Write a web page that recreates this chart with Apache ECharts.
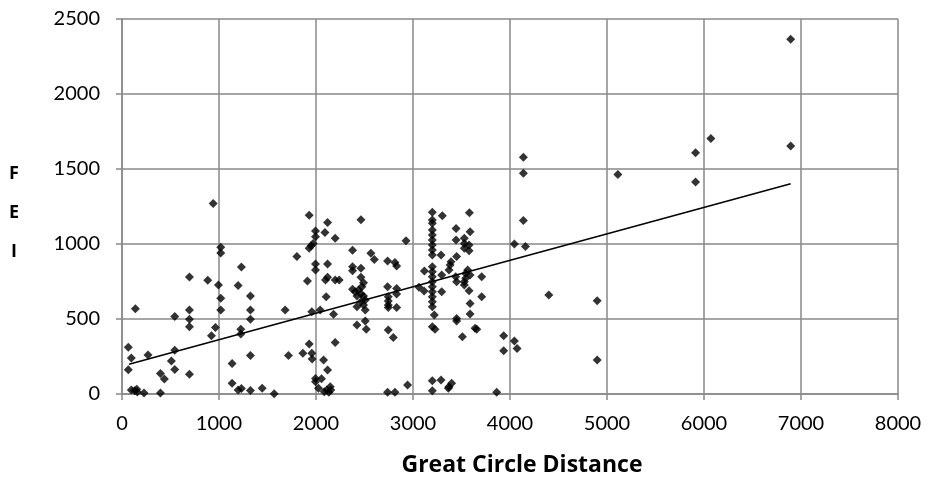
<!DOCTYPE html>
<html>
<head>
<meta charset="utf-8">
<title>FEI vs Great Circle Distance</title>
<script src="https://cdn.jsdelivr.net/npm/echarts@6/dist/echarts.min.js"></script>
<style>
  html, body { margin: 0; padding: 0; background: #fff; }
  #chart { width: 929px; height: 483px; }
</style>
</head>
<body>
<div id="chart"></div>
<script>
// Great circle distance of each route
const distance = [
  65, 96, 65, 138, 96, 131, 152, 158, 227, 268, 396, 396, 437, 509, 544, 544, 544,
  695, 695, 695, 695, 695, 884, 922, 963, 940,
  994, 1018, 1018, 1018, 1018, 1135, 1135, 1197, 1231, 1197, 1231, 1225, 1225,
  1324, 1324, 1324, 1324, 1324, 1445, 1569, 1682, 1716, 1803, 1865, 1912,
  1930, 1930, 1950, 1971, 1930, 1957, 1960, 1957, 1995, 1995, 1995, 1995, 1995, 1995, 2026,
  2043, 2057, 2078, 2085, 2092, 2098, 2105, 2112, 2119, 2119, 2119, 2119, 2133, 2147, 2153,
  2181, 2198, 2198, 2198, 2239, 2377, 2377, 2377, 2377, 2405, 2422, 2422, 2422, 2439,
  2463, 2463, 2463, 2463, 2463, 2473, 2490, 2490, 2490, 2508, 2508, 2508, 2518, 2566, 2601,
  2738, 2738, 2738, 2745, 2745, 2745, 2745, 2745, 2797, 2814, 2814, 2831, 2831, 2831, 2831,
  2928, 2944,
  3062, 3114, 3117, 3199, 3199, 3199, 3199, 3199, 3199, 3199, 3199, 3199, 3199, 3199, 3199,
  3199, 3199, 3199, 3199, 3199, 3199, 3199, 3227, 3220, 3199, 3199, 3289, 3289, 3296, 3296,
  3302, 3364, 3371, 3398, 3371, 3382, 3392, 3440, 3450, 3444, 3444, 3450, 3450, 3450, 3509,
  3529, 3529, 3529, 3529, 3529, 3543, 3543, 3564, 3578, 3578, 3578, 3581, 3588, 3588, 3588,
  3588, 3640, 3657, 3708, 3708, 3863, 3935, 3935,
  4045, 4073, 4045, 4159, 4138, 4138, 4138, 4400, 4899, 4899, 5112, 5913, 5913, 6071, 6894, 6894
];

// FEI value of each route, same order as distance
const fei = [
  311, 240, 162, 569, 27, 22, 31, 13, 7, 260, 7, 136, 100, 220, 291, 164, 516,
  780, 560, 498, 449, 131, 758, 389, 444, 1270,
  727, 978, 940, 638, 560, 204, 71, 27, 36, 724, 847, 431, 400,
  653, 560, 498, 256, 24, 38, 2, 560, 256, 916, 271, 753,
  1191, 971, 989, 1004, 333, 271, 233, 549, 1087, 1049, 867, 827, 104, 82, 38,
  560, 102, 227, 15, 1076, 760, 649, 27, 1144, 867, 778, 160, 11, 49, 27,
  531, 1038, 760, 344, 760, 958, 849, 822, 698, 682, 653, 582, 460, 693,
  1162, 838, 778, 667, 615, 715, 742, 653, 593, 627, 560, 487, 431, 938, 896,
  887, 715, 11, 649, 620, 593, 576, 427, 376, 876, 11, 853, 704, 667, 576,
  1022, 60,
  711, 687, 820, 1211, 1160, 1138, 1093, 1060, 1027, 993, 960, 927, 849, 815, 782,
  749, 715, 682, 649, 615, 582, 449, 431, 527, 89, 22, 93, 927, 793, 682,
  1189, 38, 49, 71, 827, 860, 882, 782, 749, 1104, 1027, 916, 504, 487, 382,
  1038, 1004, 971, 749, 727, 804, 771, 827, 993, 955, 689, 1209, 1082, 793, 604,
  533, 438, 431, 782, 649, 11, 389, 289,
  353, 304, 1000, 984, 1156, 1471, 1578, 660, 622, 227, 1464, 1609, 1413, 1704, 2365, 1653
];

// Linear trend line: FEI = trendSlope * distance + trendIntercept
const trendSlope = 0.1765;
const trendIntercept = 185;
const trendRange = [72, 6894];

// Axis ticks
const xTicks = [0, 1000, 2000, 3000, 4000, 5000, 6000, 7000, 8000];
const yTicks = [0, 500, 1000, 1500, 2000, 2500];

const points = distance.map((d, i) => [d, fei[i]]);
const trend = trendRange.map(d => [d, trendSlope * d + trendIntercept]);

const gridColor = '#898989';
const numFont = 'Lato, "Open Sans", sans-serif';
const titleFont = '"Open Sans", Lato, sans-serif';
const plain = v => String(v);

// Y-axis title: letters stacked vertically, with a short spacer line on top
const yTitleLetters = ['F', 'E', 'I'];
const yTitle = '{s|}\n' + yTitleLetters.map(c => '{t|' + c + '}').join('\n');

const chart = echarts.init(document.getElementById('chart'), null, { renderer: 'canvas' });
chart.setOption({
  animation: false,
  backgroundColor: '#ffffff',
  grid: { left: 122, right: 31, top: 19, bottom: 89, containLabel: false },
  xAxis: {
    type: 'value',
    min: xTicks[0],
    max: xTicks[xTicks.length - 1],
    interval: xTicks[1] - xTicks[0],
    name: 'Great Circle Distance',
    nameLocation: 'middle',
    nameGap: 60,
    nameTextStyle: {
      fontFamily: titleFont, fontSize: 23, fontWeight: 'bold', color: '#000',
      padding: [0, 0, 0, 24]
    },
    axisLine: { show: true, lineStyle: { color: gridColor, width: 1.5 } },
    axisTick: { show: true, inside: false, length: 6, lineStyle: { color: gridColor, width: 1.5 } },
    axisLabel: { margin: 20, fontFamily: numFont, fontSize: 20, color: '#000', formatter: plain },
    splitLine: { show: true, lineStyle: { color: gridColor, width: 1.5 } }
  },
  yAxis: {
    type: 'value',
    min: yTicks[0],
    max: yTicks[yTicks.length - 1],
    interval: yTicks[1] - yTicks[0],
    name: yTitle,
    nameLocation: 'middle',
    nameRotate: 0,
    nameGap: 108,
    nameTextStyle: {
      align: 'center',
      rich: {
        s: { lineHeight: 12, fontSize: 1 },
        t: { fontFamily: titleFont, fontSize: 18, fontWeight: 'bold', color: '#000', lineHeight: 39, align: 'center' }
      }
    },
    axisLine: { show: true, lineStyle: { color: gridColor, width: 1.5 } },
    axisTick: { show: true, inside: false, length: 6, lineStyle: { color: gridColor, width: 1.5 } },
    axisLabel: { margin: 22, fontFamily: numFont, fontSize: 20, color: '#000', formatter: plain },
    splitLine: { show: true, lineStyle: { color: gridColor, width: 1.5 } }
  },
  series: [
    {
      name: 'FEI',
      type: 'scatter',
      data: points,
      symbol: 'diamond',
      symbolSize: 9,
      itemStyle: { color: '#000' },
      silent: true,
      z: 3
    },
    {
      name: 'Linear trend',
      type: 'line',
      data: trend,
      showSymbol: false,
      symbol: 'none',
      lineStyle: { color: '#000', width: 1.5 },
      silent: true,
      z: 4
    }
  ]
});
</script>
</body>
</html>
